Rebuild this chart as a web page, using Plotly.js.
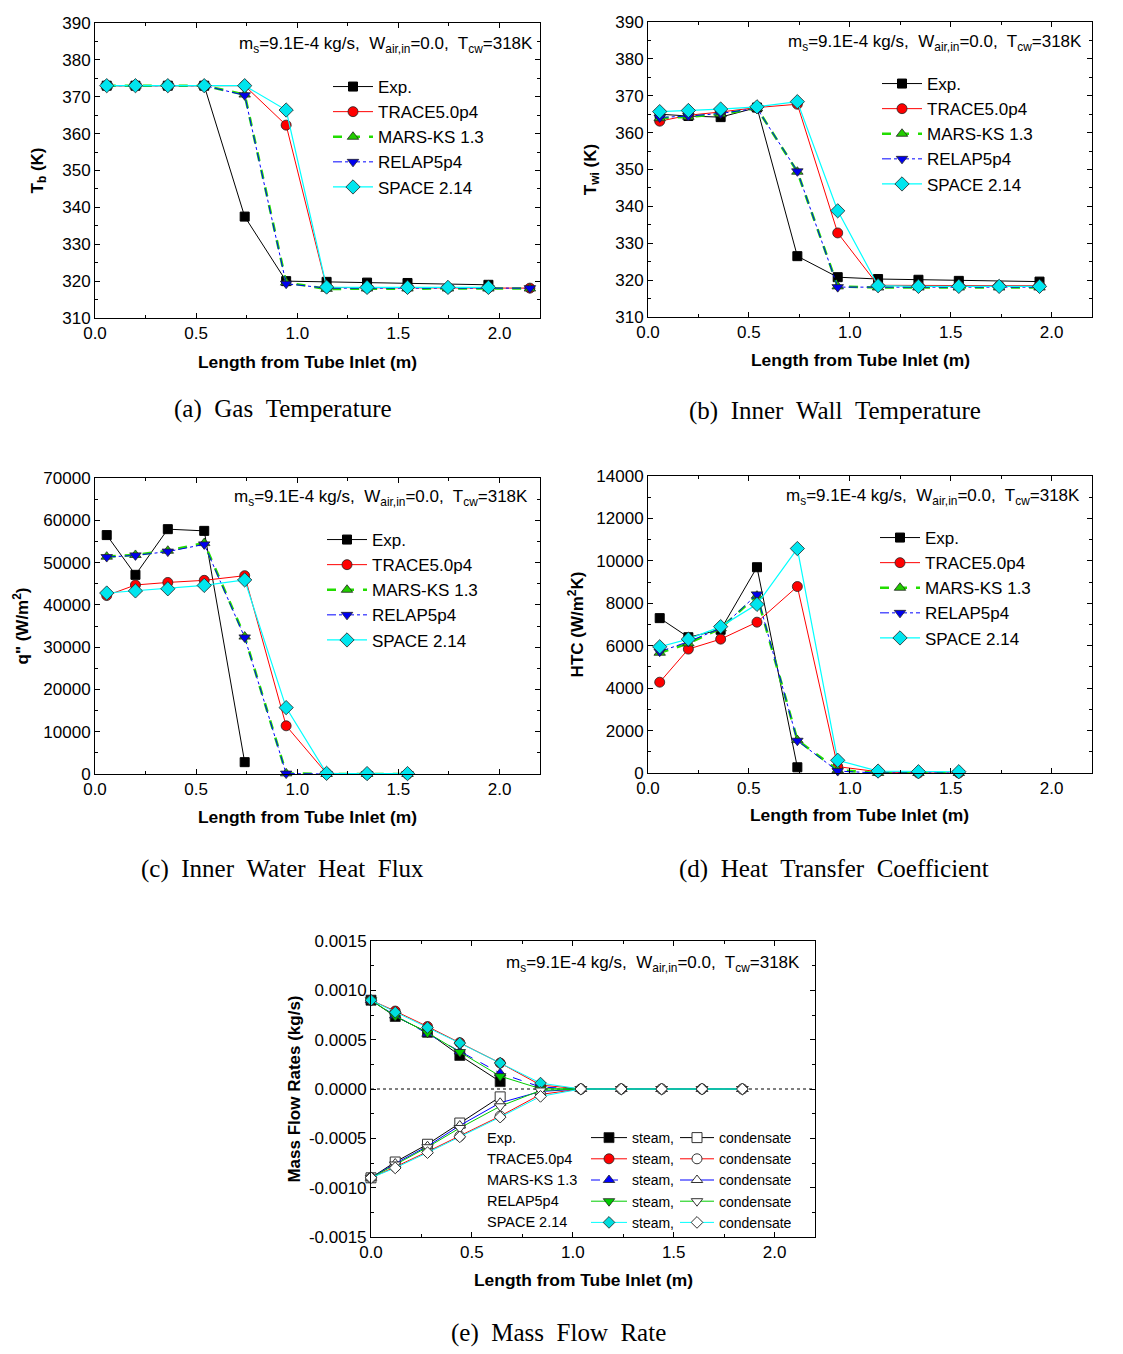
<!DOCTYPE html>
<html>
<head>
<meta charset="utf-8">
<script src="https://cdn.plot.ly/plotly-3.0.1.min.js"></script>
<style>html,body{margin:0;padding:0;background:#fff}#chart{width:1123px;height:1354px}</style>
</head>
<body>
<div id="chart"></div>
<script>
// ---------------- DATA ----------------
const seriesNames = ["Exp.", "TRACE5.0p4", "MARS-KS 1.3", "RELAP5p4", "SPACE 2.14"];
const annotText = "m<sub>s</sub>=9.1E-4 kg/s,&nbsp; W<sub>air,in</sub>=0.0,&nbsp; T<sub>cw</sub>=318K";
const xTitle = "Length from Tube Inlet (m)";

// (a) Gas temperature
const xA = [0.058, 0.2, 0.36, 0.54, 0.74, 0.945, 1.145, 1.345, 1.545, 1.745, 1.945, 2.15];
const expA   = [373, 373, 373, 373, 337.5, 320, 319.8, 319.6, 319.5, null, 319.0];
const traceA = [373, 373, 373, 373, 373, 362.3, 318.3, 318.2, 318.2, 318.2, 318.2, 318.1];
const marsA  = [373, 373, 373, 373, 370.6, 319.6, 317.9, 318.0, 318.0, 318.0, 318.0, 318.0];
const relapA = [373, 373, 373, 373, 370.4, 319.3, 318.1, 318.1, 318.1, 318.1, 318.1, 318.1];
const spaceA = [373, 373, 373, 373, 373, 366.4, 318.4, 318.3, 318.3, 318.3, 318.3];

// (b) Inner wall temperature
const xB = [0.058, 0.2, 0.36, 0.54, 0.74, 0.94, 1.14, 1.34, 1.54, 1.74, 1.94];
const expB   = [365.0, 364.5, 364.2, 366.8, 326.5, 320.8, 320.3, 320.1, 319.8, null, 319.6];
const traceB = [363.1, 364.7, 365.6, 366.8, 367.7, 332.8, 318.6, 318.5, 318.5, 318.5, 318.5];
const marsB  = [363.9, 364.3, 365.0, 366.6, 349.4, 318.3, 318.0, 318.0, 318.0, 318.0, 318.0];
const relapB = [364.1, 364.5, 365.2, 366.6, 349.5, 318.1, 318.1, 318.1, 318.1, 318.1, 318.1];
const spaceB = [365.7, 366.0, 366.4, 367.0, 368.4, 338.8, 318.5, 318.3, 318.3, 318.3, 318.3];

// (c) Inner water heat flux
const xC = [0.058, 0.2, 0.36, 0.54, 0.74, 0.945, 1.145, 1.345, 1.545];
const expC   = [56500, 47100, 57900, 57500, 2800];
const traceC = [42200, 44700, 45300, 45800, 46900, 11400, 150, 0, 0];
const marsC  = [51400, 51800, 52800, 54600, 32500, 150, 0, 0, 0];
const relapC = [51300, 51700, 52600, 54300, 32300, 100, 0, 0, 0];
const spaceC = [42800, 43300, 43800, 44600, 45900, 15700, 150, 100, 100];

// (d) Heat transfer coefficient
const xD = [0.058, 0.2, 0.36, 0.54, 0.74, 0.94, 1.14, 1.34, 1.54];
const expD   = [7300, 6400, 6750, 9700, 270];
const traceD = [4280, 5840, 6310, 7110, 8790, 300, 60, 0, 0];
const marsD  = [5670, 6110, 6820, 8360, 1550, 140, 0, 0, 0];
const relapD = [5720, 6190, 6820, 8420, 1520, 90, 0, 0, 0];
const spaceD = [5950, 6310, 6900, 7950, 10580, 600, 90, 60, 60];

// (e) Mass flow rate
const xE = [0, 0.12, 0.28, 0.44, 0.64, 0.84, 1.04, 1.24, 1.44, 1.64, 1.84];
const expSteam   = [0.00090, 0.000735, 0.000575, 0.000340, 0.000075];
const expCond    = [-0.00090, -0.000740, -0.000560, -0.000345, -0.000080];
const traceSteam = [0.00090, 0.000790, 0.000633, 0.000470, 0.000263, 0.000040, 0, 0, 0, 0, 0];
const traceCond  = [-0.00090, -0.000790, -0.000635, -0.000478, -0.000275, -0.000055, 0, 0, 0, 0, 0];
const marsSteam  = [0.00090, 0.000745, 0.000560, 0.000380, 0.000160, 0.000020, 0, 0, 0, 0, 0];
const marsCond   = [-0.00090, -0.000755, -0.000580, -0.000370, -0.000140, -0.000025, 0, 0, 0, 0, 0];
const relapSteam = [0.00090, 0.000740, 0.000570, 0.000375, 0.000130, 0.000003, 0, 0, 0, 0, 0];
const relapCond  = [-0.00090, -0.000765, -0.000590, -0.000395, -0.000175, -0.000015, 0, 0, 0, 0, 0];
const spaceSteam = [0.00090, 0.000778, 0.000623, 0.000465, 0.000263, 0.000060, 0, 0, 0, 0, 0];
const spaceCond  = [-0.00090, -0.000800, -0.000645, -0.000485, -0.000285, -0.000075, 0, 0, 0, 0, 0];
const yTickValsE = [-0.0015, -0.0010, -0.0005, 0, 0.0005, 0.0010, 0.0015];
const yTickTextE = ["-0.0015", "-0.0010", "-0.0005", "0.0000", "0.0005", "0.0010", "0.0015"];
const yMinorValsE = [-0.00125, -0.00075, -0.00025, 0.00025, 0.00075, 0.00125];

// ---------------- STYLE ----------------
const W = 1123, H = 1354;
const FONT = "Liberation Sans, Arial, sans-serif";
const SERIF = "Liberation Serif, Times New Roman, serif";
const px = v => v / W;
const py = v => 1 - v / H;

const styles = [
  {line: {color: "#000000", width: 1}, marker: {symbol: "square", size: 9, color: "#000000", line: {color: "#000000", width: 1}}},
  {line: {color: "#ff0000", width: 1}, marker: {symbol: "circle", size: 10, color: "#ff0000", line: {color: "#222222", width: 0.8}}},
  {line: {color: "#22dd00", width: 2.6, dash: "dash"}, marker: {symbol: "triangle-up", size: 10, color: "#22cc00", line: {color: "#222222", width: 0.8}}},
  {line: {color: "#0000ff", width: 1, dash: "dashdot"}, marker: {symbol: "triangle-down", size: 10, color: "#0000ee", line: {color: "#222222", width: 0.8}}},
  {line: {color: "#00ffff", width: 1.2}, marker: {symbol: "diamond", size: 11, color: "#00e5ee", line: {color: "#222222", width: 0.8}}}
];

const traces = [];
function addPanel(xs, ys, xa, ya, legendId) {
  ys.forEach((y, i) => {
    traces.push({
      type: "scatter", mode: "lines+markers", name: seriesNames[i],
      x: xs.slice(0, y.length), y: y, xaxis: xa, yaxis: ya,
      connectgaps: true, cliponaxis: false,
      line: styles[i].line, marker: styles[i].marker,
      legend: legendId, showlegend: true, hoverinfo: "skip"
    });
  });
}
addPanel(xA, [expA, traceA, marsA, relapA, spaceA], "x", "y", "legend");
addPanel(xB, [expB, traceB, marsB, relapB, spaceB], "x2", "y2", "legend2");
addPanel(xC, [expC, traceC, marsC, relapC, spaceC], "x3", "y3", "legend3");
addPanel(xD, [expD, traceD, marsD, relapD, spaceD], "x4", "y4", "legend4");

// (e) steam & condensate
const eStyles = [
  {color: "#000000", sym: "square", dashS: "solid", size: 10},
  {color: "#ff0000", sym: "circle", dashS: "solid", size: 10},
  {color: "#0000ff", sym: "triangle-up", dashS: "dash", size: 10},
  {color: "#00cc00", sym: "triangle-down", dashS: "solid", size: 10},
  {color: "#00ffff", sym: "diamond", dashS: "solid", size: 9}
];
const steamFill = ["#000000", "#ff0000", "#0000ff", "#00cc00", "#00dddd"];
const steamSets = [expSteam, traceSteam, marsSteam, relapSteam, spaceSteam];
const condSets = [expCond, traceCond, marsCond, relapCond, spaceCond];
steamSets.forEach((y, i) => {
  const s = eStyles[i];
  traces.push({
    type: "scatter", mode: "lines+markers", name: "steam,",
    x: xE.slice(0, y.length), y: y, xaxis: "x5", yaxis: "y5", cliponaxis: false,
    line: {color: s.color, width: 1, dash: s.dashS},
    marker: {symbol: s.sym, size: s.size, color: steamFill[i], line: {color: "#222222", width: 0.8}},
    legend: "legend5", hoverinfo: "skip"
  });
});
condSets.forEach((y, i) => {
  const s = eStyles[i];
  traces.push({
    type: "scatter", mode: "lines+markers", name: "condensate",
    x: xE.slice(0, y.length), y: y, xaxis: "x5", yaxis: "y5", cliponaxis: false,
    line: {color: s.color, width: 1},
    marker: {symbol: s.sym, size: s.size, color: "#ffffff", line: {color: "#333333", width: 1}},
    legend: "legend6", hoverinfo: "skip"
  });
});

// ---------------- LAYOUT ----------------
function xAxis(l, r, anchor) {
  return {
    domain: [px(l), px(r)], anchor: anchor, range: [0, 2.2],
    dtick: 0.5, tick0: 0, tickformat: ".1f",
    showline: true, linecolor: "#000", linewidth: 1, mirror: "allticks",
    ticks: "inside", ticklen: 5, tickcolor: "#000", tickwidth: 1,
    minor: {ticks: "inside", ticklen: 3, dtick: 0.25, tickcolor: "#000", showgrid: false},
    showgrid: false, zeroline: false,
    tickfont: {family: FONT, size: 17, color: "#000"},
    title: {text: ""}
  };
}
function yAxis(t, b, anchor, range, dtick, minorDtick, title, standoff, extra) {
  const ax = {
    domain: [py(b), py(t)], anchor: anchor, range: range,
    dtick: dtick, tick0: 0, tickformat: "d", exponentformat: "none",
    showline: true, linecolor: "#000", linewidth: 1, mirror: "allticks",
    ticks: "inside", ticklen: 5, tickcolor: "#000", tickwidth: 1,
    minor: {ticks: "inside", ticklen: 3, dtick: minorDtick, tickcolor: "#000", showgrid: false},
    showgrid: false, zeroline: false,
    tickfont: {family: FONT, size: 17, color: "#000"},
    title: {text: title, standoff: standoff, font: {family: FONT, size: 17, color: "#000", weight: "bold"}}
  };
  return Object.assign(ax, extra || {});
}

function legendAt(left, top, fontSize, itemwidth) {
  return {
    x: px(left), y: py(top), xref: "paper", yref: "paper", xanchor: "left", yanchor: "top",
    bgcolor: "rgba(0,0,0,0)", borderwidth: 0, itemwidth: itemwidth, tracegroupgap: 0,
    traceorder: "normal",
    font: {family: FONT, size: fontSize, color: "#000"}
  };
}

function infoNote(xref, yref, x, y) {
  return {xref: xref, yref: yref, x: x, y: y, xanchor: "right", yanchor: "middle",
          text: annotText, showarrow: false, font: {family: FONT, size: 17, color: "#000"}};
}
function caption(cx, cy, text) {
  return {xref: "paper", yref: "paper", x: px(cx), y: py(cy), xanchor: "center", yanchor: "middle",
          text: text, showarrow: false, font: {family: SERIF, size: 25, color: "#000"}};
}
function xTitleNote(cx, cy) {
  return {xref: "paper", yref: "paper", x: px(cx), y: py(cy), xanchor: "center", yanchor: "middle",
          text: "<b>" + xTitle + "</b>", showarrow: false, font: {family: FONT, size: 17.4, color: "#000"}};
}
const nb = "&nbsp;&nbsp;";
const annotations = [
  infoNote("x domain", "y domain", (535 - 95) / 445, 1 - 22 / 295),
  infoNote("x2 domain", "y2 domain", (1084 - 648) / 444, 1 - 21 / 295),
  infoNote("x3 domain", "y3 domain", (530 - 95) / 445, 1 - 20 / 296),
  infoNote("x4 domain", "y4 domain", (1082 - 648) / 444, 1 - 21 / 297),
  infoNote("x5 domain", "y5 domain", (802 - 371) / 444, 1 - 23 / 296),
  xTitleNote(307, 362), xTitleNote(860, 360), xTitleNote(307, 817), xTitleNote(859, 815), xTitleNote(583, 1280),
  caption(283, 409, "(a)" + nb + "Gas" + nb + "Temperature"),
  caption(835, 411, "(b)" + nb + "Inner" + nb + "Wall" + nb + "Temperature"),
  caption(282, 869, "(c)" + nb + "Inner" + nb + "Water" + nb + "Heat" + nb + "Flux"),
  caption(834, 869, "(d)" + nb + "Heat" + nb + "Transfer" + nb + "Coefficient"),
  caption(558, 1333, "(e)" + nb + "Mass" + nb + "Flow" + nb + "Rate")
];
// names column of legend (e)
const eRows = [1138, 1159, 1180, 1201, 1222];
seriesNames.forEach((n, i) => {
  annotations.push({xref: "paper", yref: "paper", x: px(485), y: py(eRows[i]), xanchor: "left", yanchor: "middle",
    text: n, showarrow: false, font: {family: FONT, size: 14.5, color: "#000"}});
});

const layout = {
  width: W, height: H, margin: {l: 0, r: 0, t: 0, b: 0},
  paper_bgcolor: "#fff", plot_bgcolor: "#fff", showlegend: true,
  xaxis: xAxis(95, 540, "y"),
  yaxis: yAxis(23, 318, "x", [310, 390], 10, 5, "T<sub>b</sub> (K)", 14),
  xaxis2: xAxis(648, 1092, "y2"),
  yaxis2: yAxis(22, 317, "x2", [310, 390], 10, 5, "T<sub>wi</sub> (K)", 14),
  xaxis3: xAxis(95, 540, "y3"),
  yaxis3: yAxis(478, 774, "x3", [0, 70000], 10000, 5000, "q\" (W/m<sup>2</sup>)", 10),
  xaxis4: xAxis(648, 1092, "y4"),
  yaxis4: yAxis(476, 773, "x4", [0, 14000], 2000, 1000, "HTC (W/m<sup>2</sup>K)", 8),
  xaxis5: xAxis(371, 815, "y5"),
  yaxis5: yAxis(941, 1237, "x5", [-0.0015, 0.0015], 0.0005, 0.00025, "Mass Flow Rates (kg/s)", 3,
                {tickmode: "array", tickvals: yTickValsE, ticktext: yTickTextE, tickformat: "",
                 minor: {ticks: "inside", ticklen: 3, tickvals: yMinorValsE, tickcolor: "#000", showgrid: false}}),
  legend: legendAt(328, 69, 17, 40),
  legend2: legendAt(877, 66, 17, 40),
  legend3: legendAt(322, 522, 17, 40),
  legend4: legendAt(875, 520, 17, 40),
  legend5: legendAt(586, 1122, 14, 36),
  legend6: legendAt(675, 1122, 14, 34),
  shapes: [{type: "line", xref: "x5 domain", yref: "y5", x0: 0, x1: 1, y0: 0, y1: 0,
            line: {color: "#000", width: 1, dash: "dot"}, layer: "below"}],
  annotations: annotations
};

Plotly.newPlot("chart", traces, layout, {staticPlot: true, displayModeBar: false});
</script>
</body>
</html>
